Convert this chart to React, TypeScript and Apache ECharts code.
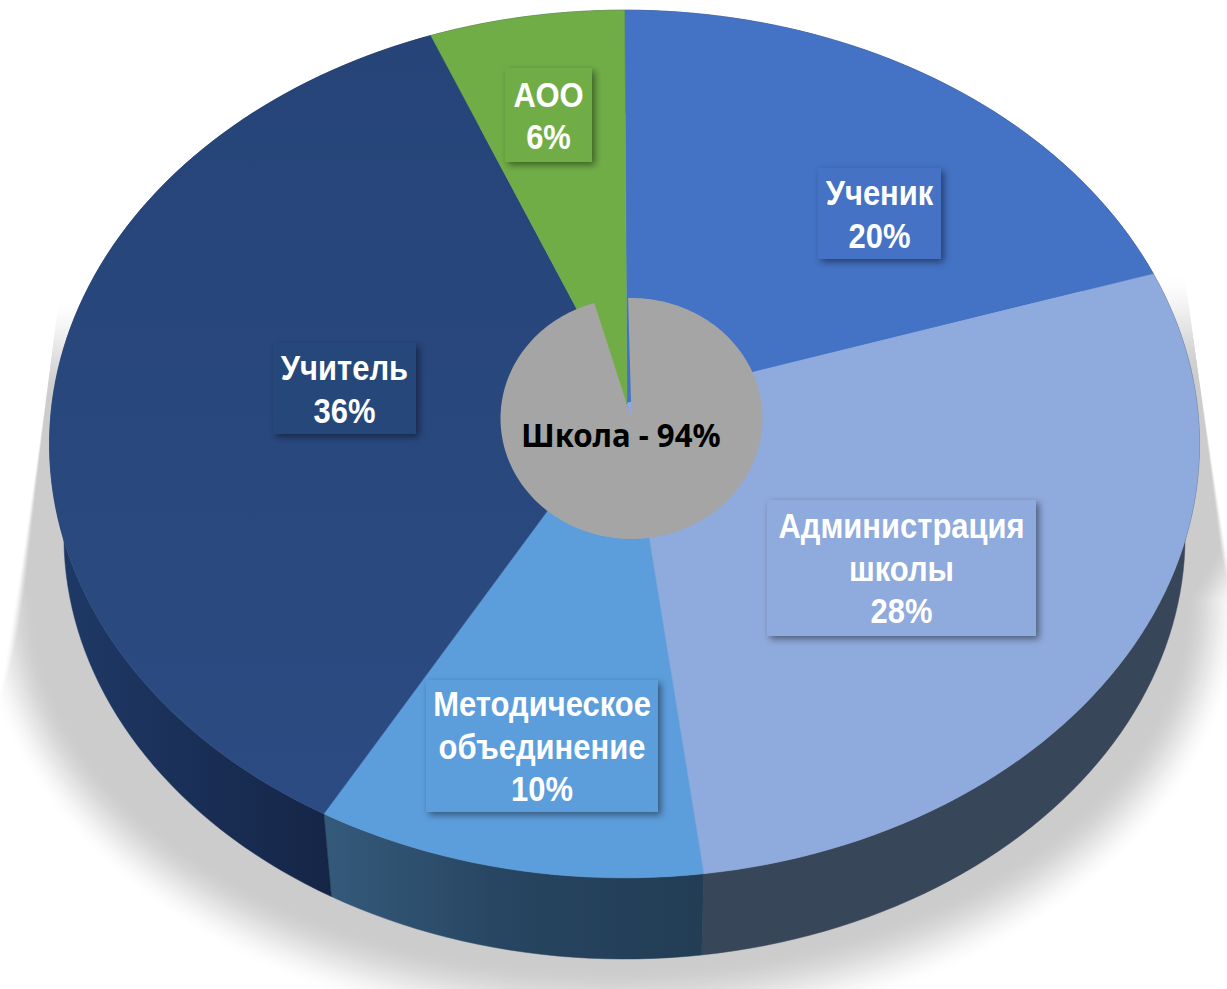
import React, { useEffect, useRef } from "react";
import * as echarts from "echarts";

const sliceNames = ["Ученик", "Администрация\nшколы", "Методическое\nобъединение", "Учитель", "АОО"];
const sliceValues = [20, 28, 10, 36, 6];
const centerName = "Школа";
const centerValue = 94;

const faceColors = ["#4472C4", "#8FAADC", "#5C9DDB", "#284779", "#70AD47"];
const labelBoxes = [
  [818, 168, 123, 91],
  [767, 500, 269, 136],
  [426, 680, 232, 132],
  [273, 343, 143, 91],
  [505, 68, 87, 94],
];

const APEX_X = 627, APEX_Y = 403, RIM_X = 624.5, RX = 572.4, RY = 430, K = -0.0945;
const WALL_SCALE = 0.975, WALL_DY = 93;
const STEP = 1.5;

const rim = (deg: number, wall = false) => {
  const t = (deg * Math.PI) / 180;
  const u = Math.sin(t), v = -Math.cos(t);
  const d = 1 + K * v;
  const s = wall ? WALL_SCALE : 1;
  return [RIM_X + (s * RX * u) / d, APEX_Y + (s * RY * v) / d + (wall ? WALL_DY : 0)];
};
const arc = (a: number, b: number, wall = false) => {
  const pts: number[][] = [];
  const n = Math.max(2, Math.ceil((b - a) / STEP));
  for (let i = 0; i <= n; i++) pts.push(rim(a + ((b - a) * i) / n, wall));
  return pts;
};
const total = sliceValues.reduce((p, c) => p + c, 0);
const startDeg = (idx: number) => (sliceValues.slice(0, idx).reduce((p, c) => p + c, 0) / total) * 360;

const lg = (x0: number, y0: number, x1: number, y1: number, stops: [number, string][]) =>
  new echarts.graphic.LinearGradient(x0, y0, x1, y1, stops.map(([offset, color]) => ({ offset, color })), true);

const wallFills: any[] = [
  "#38465A",
  "#38465A",
  lg(323, 0, 705, 0, [[0, "#345A7B"], [0.5, "#274460"], [1, "#223D54"]]),
  lg(50, 0, 332, 0, [[0, "#1F3A68"], [0.5, "#1A2F57"], [1, "#152546"]]),
  "#38465A",
];
const faceFills: any[] = [
  faceColors[0],
  faceColors[1],
  faceColors[2],
  lg(0, 30, 0, 820, [[0, "#264478"], [1, "#2B4B82"]]),
  faceColors[4],
];

// soft floor shadow, drawn as nested outlines (t = 0 outer, t = 1 inner)
const SHADOW_STEPS = 40;
const shadowLayer = (t: number) => {
  const cx = 610, cy = 600;
  const rx = 634 - 59 * t, ry = 442 - 74 * t;
  const soft = (y: number) => (2 * t - 1) * (0.5 + 6 * ((y - 333) / 300) ** 2);
  const lineL = (y: number) => 55 - 0.131 * (y - 333) + soft(y);
  const lineR = (y: number) => 1190 + 0.142 * (y - 317) - soft(y);
  const half = (y: number) => {
    if (y <= cy) return rx + (cy - y) * 0.6;
    const q = (y - cy) / ry;
    return rx * Math.sqrt(Math.max(0, 1 - q * q));
  };
  const topL = 295 + 105 * t;
  const topR = 268 + 112 * t;
  const bottom = cy + ry;
  const right: number[][] = [];
  const left: number[][] = [];
  for (let y = topR; y <= bottom; y += 5) right.push([Math.min(lineR(y), cx + half(y)), y]);
  right.push([cx, bottom]);
  for (let y = bottom; y >= topL; y -= 5) left.push([Math.max(lineL(y), cx - half(y)), y]);
  left.push([lineL(topL), topL]);
  return [...right, ...left];
};

export default function App() {
  const ref = useRef<HTMLDivElement>(null);
  useEffect(() => {
    document.body.style.margin = "0";
    const chart = echarts.init(ref.current!, undefined, { renderer: "svg" });
    const rows = sliceValues.map((v, i) => [i, v]);
    chart.setOption({
      animation: false,
      backgroundColor: "#ffffff",
      series: [
        {
          type: "custom",
          coordinateSystem: "none",
          silent: true,
          data: [[0]],
          renderItem: () => {
            const children: any[] = [];
            for (let i = 0; i <= SHADOW_STEPS; i++) {
              const t = i / SHADOW_STEPS;
              const e = t * t * (3 - 2 * t);
              const g = Math.round(255 - 51 * e);
              children.push({
                type: "polygon",
                shape: { points: shadowLayer(t) },
                style: { fill: `rgb(${g},${g},${g})` },
              });
            }
            return { type: "group", children };
          },
        },
        {
          type: "custom",
          coordinateSystem: "none",
          silent: true,
          data: rows,
          renderItem: (_: any, api: any) => {
            const i = api.value(0);
            const a = startDeg(i);
            const b = a + (api.value(1) / total) * 360;
            return {
              type: "polygon",
              shape: { points: [...arc(a, b), ...arc(a, b, true).reverse()] },
              style: { fill: wallFills[i], stroke: wallFills[i], lineWidth: 0.5 },
            };
          },
        },
        {
          type: "custom",
          coordinateSystem: "none",
          silent: true,
          data: rows,
          renderItem: (_: any, api: any) => {
            const i = api.value(0);
            const a = startDeg(i);
            const b = a + (api.value(1) / total) * 360;
            return {
              type: "polygon",
              shape: { points: [[APEX_X, APEX_Y], ...arc(a, b)] },
              style: { fill: faceFills[i], stroke: faceFills[i], lineWidth: 0.5 },
            };
          },
        },
        {
          type: "custom",
          coordinateSystem: "none",
          silent: true,
          data: [[centerValue]],
          renderItem: (_: any, api: any) => {
            const cx = 631.5, cy = 418.5, rx = 131, ry = 120.5;
            const a0 = -1.5;
            const sweep = (api.value(0) / 100) * 360 + 7;
            const pts: number[][] = [[cx, cy]];
            for (let d = 0; d <= sweep; d += 1.5) {
              const r = ((a0 + d) * Math.PI) / 180;
              pts.push([cx + rx * Math.sin(r), cy - ry * Math.cos(r)]);
            }
            return {
              type: "group",
              children: [
                { type: "polygon", shape: { points: pts }, style: { fill: "#A5A5A5" } },
                {
                  type: "text",
                  x: 621,
                  y: 434.5,
                  scaleX: 0.975,
                  style: {
                    text: `${centerName} - ${api.value(0)}%`,
                    x: 0,
                    y: 0,
                    align: "center",
                    verticalAlign: "middle",
                    fill: "#000000",
                    font: 'bold 32px "Noto Sans"',
                  },
                },
              ],
            };
          },
        },
        {
          type: "custom",
          coordinateSystem: "none",
          silent: true,
          data: rows,
          renderItem: (_: any, api: any) => {
            const i = api.value(0);
            const [x, y, w, h] = labelBoxes[i];
            return {
              type: "group",
              children: [
                {
                  type: "rect",
                  shape: { x, y, width: w, height: h },
                  style: {
                    fill: faceColors[i],
                    shadowBlur: 7,
                    shadowOffsetX: 3,
                    shadowOffsetY: 3,
                    shadowColor: "rgba(0,0,0,0.45)",
                  },
                },
                {
                  type: "text",
                  x: x + w / 2,
                  y: y + h / 2 + 0.5,
                  scaleX: 0.86,
                  style: {
                    text: `${sliceNames[i]}\n${api.value(1)}%`,
                    x: 0,
                    y: 0,
                    align: "center",
                    verticalAlign: "middle",
                    fill: "#ffffff",
                    font: 'bold 36px "Liberation Sans"',
                    lineHeight: 42.5,
                  },
                },
              ],
            };
          },
        },
      ],
    });
    return () => chart.dispose();
  }, []);
  return <div ref={ref} style={{ position: "fixed", left: 0, top: 0, width: 1227, height: 989 }} />;
}
